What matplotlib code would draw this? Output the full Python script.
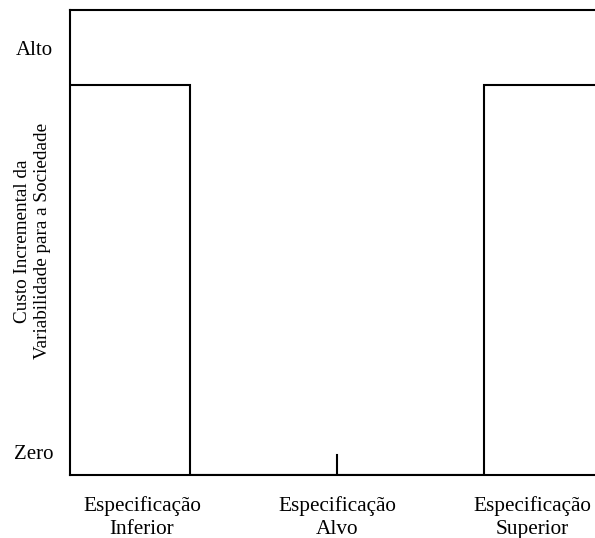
import matplotlib
matplotlib.use("Agg")
import matplotlib.pyplot as plt

# specification limits and target (standardised units)
limites = ["Especificação\nInferior", "Especificação\nAlvo", "Especificação\nSuperior"]
posicoes_rotulos = [-1.33, 0.0, 1.33]
lie, alvo, lse = -1.0, 0.0, 1.0

# step cost curve
custo_x = [-1.82, lie, lie, lse, lse, 1.80]
custo_y = [0.838, 0.838, 0.0, 0.0, 0.838, 0.838]

niveis = [0.049, 0.917]
niveis_txt = ["Zero", "Alto"]

plt.rcParams['font.family'] = ['Liberation Serif', 'DejaVu Serif']

fig = plt.figure(figsize=(5.95, 5.38), dpi=100)
ax = fig.add_axes([70 / 595, 1 - 475 / 538, 1 - 70 / 595 + 0.01, (475 - 9.5) / 538])

ax.plot(custo_x, custo_y, color='black', lw=1.5, solid_joinstyle='miter')
ax.plot([alvo, alvo], [0, 0.043], color='black', lw=1.5)

ax.set_xlim(-1.82, 1.80)
ax.set_ylim(0, 1)
ax.spines['right'].set_visible(False)
for s in ['left', 'top', 'bottom']:
    ax.spines[s].set_linewidth(1.5)

ax.set_xticks(posicoes_rotulos)
ax.set_xticklabels(limites, fontsize=15.3, linespacing=1.3)
ax.set_yticks(niveis)
ax.set_yticklabels(niveis_txt, fontsize=15)
ax.tick_params(length=0, pad=12)
ax.tick_params(axis='x', pad=15)

fig.text(0.054, 0.552, "Custo Incremental da\nVariabilidade para a Sociedade",
         rotation=90, ha='center', va='center', fontsize=13.8, linespacing=1.25)

fig.savefig("out.png", dpi=100)
